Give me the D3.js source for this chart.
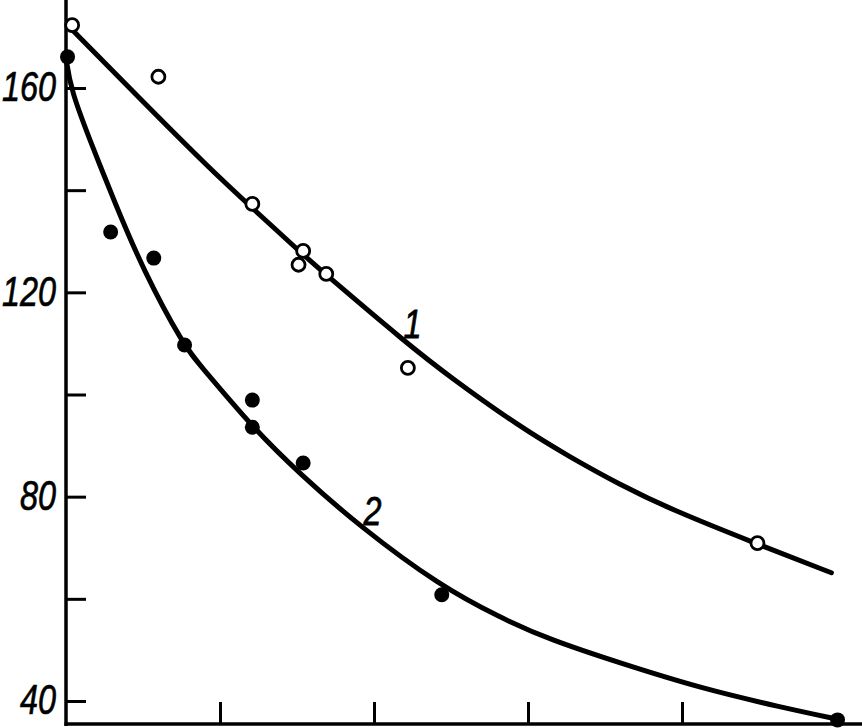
<!DOCTYPE html>
<html>
<head>
<meta charset="utf-8">
<script src="https://cdn.jsdelivr.net/npm/d3@7"></script>
<style>
  html, body { margin: 0; padding: 0; background: #fff; }
  svg { display: block; }
</style>
</head>
<body>
<svg id="chart" width="862" height="728"></svg>
<script>
// ---- data ----
const yTickValues = [40, 60, 80, 100, 120, 140, 160];
const yTickLabels = ["40", "", "80", "", "120", "", "160"];
const xTickValues = [1, 2, 3, 4];

// series 1: open circles
const s1x = [0.04, 0.60, 1.21, 1.54, 1.51, 1.69, 2.22, 4.49];
const s1y = [172.3, 162.2, 137.3, 128.1, 125.4, 123.6, 105.2, 70.9];
// series 2: filled circles
const s2x = [0.01, 0.29, 0.57, 0.77, 1.21, 1.21, 1.54, 2.44, 5.01];
const s2y = [166.1, 131.8, 126.7, 109.7, 98.9, 93.6, 86.6, 60.8, 36.3];

// fitted curve 1
const c1x = [0.04, 0.48, 0.94, 1.21, 1.52, 1.69, 2.21, 2.49, 2.95, 3.27, 3.60, 3.92, 4.49, 4.97];
const c1y = [171.4, 157.9, 144.0, 136.5, 127.9, 123.4, 110.1, 103.5, 93.6, 87.8, 82.3, 77.6, 70.7, 65.1];
// fitted curve 2
const c2x = [0.0, 0.03, 0.18, 0.31, 0.50, 0.77, 0.87, 1.21, 1.52, 1.91, 2.43, 2.82, 3.14, 3.60, 4.12, 4.64, 5.03];
const c2y = [165.9, 159.6, 147.9, 138.1, 124.4, 109.3, 105.8, 93.6, 84.4, 74.1, 62.5, 56.3, 52.0, 47.4, 42.5, 38.8, 36.3];

const curveLabels = ["1", "2"];
const labelX = [2.25, 1.99];
const labelY = [111.1, 74.5];

// ---- drawing ----
const svg = d3.select("#chart");
const W = 862, H = 728;
const x = d3.scaleLinear().domain([0, 5]).range([66, 836]);
const y = d3.scaleLinear().domain([40, 160]).range([701, 88]);
const axisY = 724; // x-axis baseline in pixels
const ink = "#000";
const fontFam = "'Liberation Sans', Arial, sans-serif";
const digitW = 18;

// axes lines
svg.append("line")
  .attr("x1", x(0)).attr("x2", x(0))
  .attr("y1", 0).attr("y2", axisY + 2)
  .attr("stroke", ink).attr("stroke-width", 3.5);
svg.append("line")
  .attr("x1", x(0) - 1.5).attr("x2", W)
  .attr("y1", axisY).attr("y2", axisY)
  .attr("stroke", ink).attr("stroke-width", 3.5);

// y axis ticks + labels
const yAxis = d3.axisLeft(y)
  .tickValues(yTickValues)
  .tickSize(-20)
  .tickPadding(10)
  .tickFormat((d, i) => yTickLabels[i]);
const gy = svg.append("g").attr("transform", `translate(${x(0)},0)`).call(yAxis);
gy.select(".domain").remove();
gy.selectAll(".tick line").attr("stroke", ink).attr("stroke-width", 3);
gy.selectAll(".tick text")
  .attr("fill", ink)
  .attr("stroke", ink)
  .attr("stroke-width", 0.7)
  .attr("font-family", fontFam)
  .attr("font-style", "italic")
  .attr("font-size", 43)
  .attr("dy", "0.3em")
  .each(function () {
    const t = d3.select(this).text();
    if (t.length) d3.select(this).attr("textLength", t.length * digitW).attr("lengthAdjust", "spacingAndGlyphs");
  });

// x axis ticks (no labels)
const xAxis = d3.axisBottom(x)
  .tickValues(xTickValues)
  .tickSize(-22)
  .tickFormat("");
const gx = svg.append("g").attr("transform", `translate(0,${axisY})`).call(xAxis);
gx.select(".domain").remove();
gx.selectAll(".tick line").attr("stroke", ink).attr("stroke-width", 3);

// curves
const line = d3.line()
  .x(d => x(d[0]))
  .y(d => y(d[1]))
  .curve(d3.curveBasis);
const c1 = c1x.map((v, i) => [v, c1y[i]]);
const c2 = c2x.map((v, i) => [v, c2y[i]]);
[c1, c2].forEach(c => {
  svg.append("path").datum(c).attr("d", line)
    .attr("fill", "none").attr("stroke", ink).attr("stroke-width", 5)
    .attr("stroke-linecap", "round").attr("stroke-linejoin", "round");
});

// points
const p1 = s1x.map((v, i) => [v, s1y[i]]);
const p2 = s2x.map((v, i) => [v, s2y[i]]);
svg.append("g").selectAll("circle").data(p1).join("circle")
  .attr("cx", d => x(d[0])).attr("cy", d => y(d[1]))
  .attr("r", 6.5).attr("fill", "#fff").attr("stroke", ink).attr("stroke-width", 2.8);
svg.append("g").selectAll("circle").data(p2).join("circle")
  .attr("cx", d => x(d[0])).attr("cy", d => y(d[1]))
  .attr("r", 7.5).attr("fill", ink);

// curve labels
svg.append("g").selectAll("text").data(curveLabels).join("text")
  .attr("x", (d, i) => x(labelX[i]))
  .attr("y", (d, i) => y(labelY[i]))
  .attr("text-anchor", "middle")
  .attr("font-family", fontFam)
  .attr("font-style", "italic")
  .attr("font-size", 41)
  .attr("stroke", ink)
  .attr("stroke-width", 0.8)
  .attr("textLength", d => d.length * digitW)
  .attr("lengthAdjust", "spacingAndGlyphs")
  .attr("fill", ink)
  .text(d => d);
</script>
</body>
</html>
